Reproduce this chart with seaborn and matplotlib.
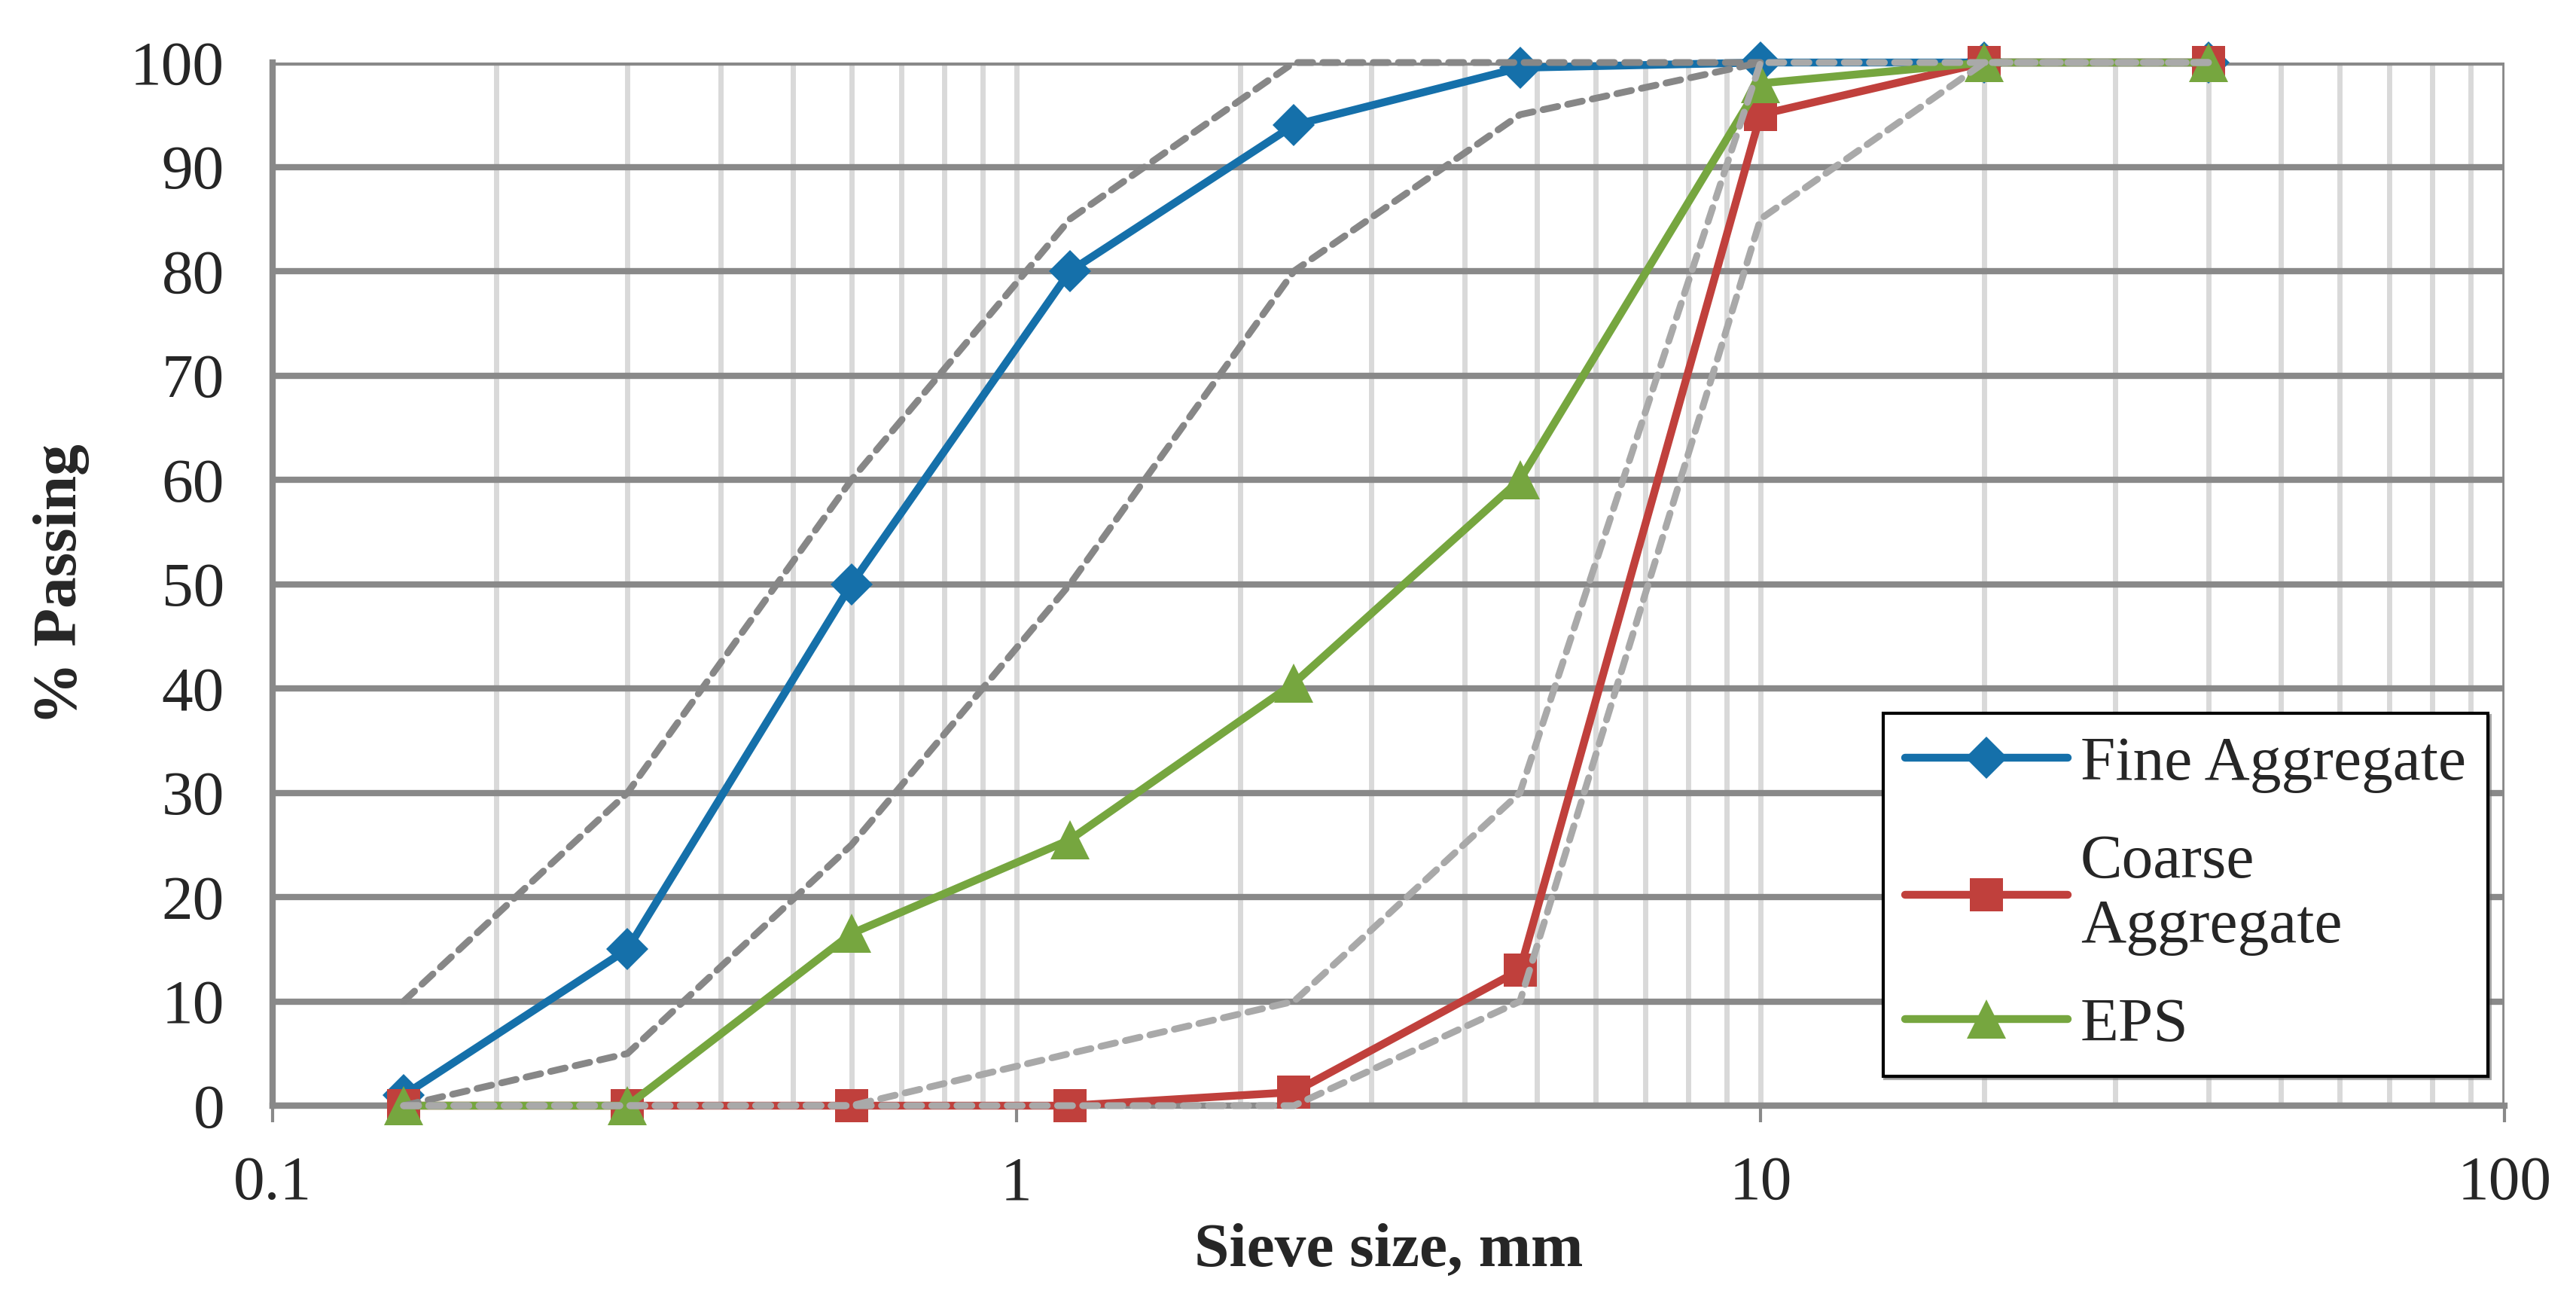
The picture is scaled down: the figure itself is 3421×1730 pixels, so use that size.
import numpy as np
import pandas as pd
import matplotlib
matplotlib.use("Agg")
import matplotlib.pyplot as plt
from matplotlib.ticker import FixedLocator, NullFormatter
import seaborn as sns

# ---------------- data ----------------
sieve = [0.15, 0.3, 0.6, 1.18, 2.36, 4.75, 10, 20, 40]
fine_aggregate = [1, 15, 50, 80, 94, 99.5, 100, 100, 100]
coarse_aggregate = [0, 0, 0, 0, 1.3, 13, 95, 100, 100]
eps = [0, 0, 16.5, 25.5, 40.5, 60, 98, 100, 100]

fine_limit_sieve = [0.15, 0.3, 0.6, 1.18, 2.36, 4.75, 10]
fine_upper = [10, 30, 60, 85, 100, 100, 100]
fine_lower = [0, 5, 25, 50, 80, 95, 100]

coarse_limit_sieve = [0.15, 0.3, 0.6, 1.18, 2.36, 4.75, 10, 20, 40]
coarse_upper = [0, 0, 0, 5, 10, 30, 100, 100, 100]
coarse_lower = [0, 0, 0, 0, 0, 10, 85, 100, 100]

x_ticks = [0.1, 1, 10, 100]
x_tick_labels = ["0.1", "1", "10", "100"]
y_ticks = [0, 10, 20, 30, 40, 50, 60, 70, 80, 90, 100]

series_names = ["Fine Aggregate", "Coarse\nAggregate", "EPS"]

# ---------------- style ----------------
sns.set_style("white")
plt.rcParams['font.family'] = ['Liberation Serif', 'DejaVu Serif']

FS = 60
BLUE = "#1570AA"
RED = "#C0403C"
GREEN = "#76A63F"
DARK_DASH = "#878787"
LIGHT_DASH = "#A9A9A9"
GRID_MAJOR = "#898989"
GRID_MINOR = "#D9D9D9"

fig = plt.figure(figsize=(34.21, 17.30), dpi=100)
ax = fig.add_axes([362 / 3421, 1 - 1468 / 1730, (3326 - 362) / 3421, (1468 - 83) / 1730])

ax.set_xscale("log")

# data series
series = [
    (fine_aggregate, BLUE, "D", 29),
    (coarse_aggregate, RED, "s", 31),
    (eps, GREEN, "^", 37),
]
for (vals, col, mk, ms), name in zip(series, series_names):
    df = pd.DataFrame({"x": sieve, "y": vals})
    sns.lineplot(data=df, x="x", y="y", ax=ax, color=col, linewidth=7.5,
                 marker=mk, markersize=ms, markeredgewidth=0, sort=False,
                 estimator=None, clip_on=False, zorder=3, label=name)

# limit lines (dashed), drawn above
for xs, ys, col in [(fine_limit_sieve, fine_upper, DARK_DASH),
                    (fine_limit_sieve, fine_lower, DARK_DASH),
                    (coarse_limit_sieve, coarse_upper, LIGHT_DASH),
                    (coarse_limit_sieve, coarse_lower, LIGHT_DASH)]:
    df = pd.DataFrame({"x": xs, "y": ys})
    sns.lineplot(data=df, x="x", y="y", ax=ax, color=col, linewidth=6.5,
                 linestyle=(0, (2.2, 1.5)), dash_capstyle="round",
                 sort=False, estimator=None, clip_on=False, zorder=4)

ax.set_xlim(0.1, 100)
ax.set_ylim(0, 100)

# grid
ax.xaxis.set_major_locator(FixedLocator(x_ticks))
ax.set_xticklabels(x_tick_labels)
minor = [m * 10.0 ** e for e in range(-1, 2) for m in range(2, 10)]
ax.xaxis.set_minor_locator(FixedLocator(minor))
ax.xaxis.set_minor_formatter(NullFormatter())
ax.set_yticks(y_ticks)
ax.grid(True, which="major", axis="y", color=GRID_MAJOR, linewidth=6, zorder=1)
ax.grid(True, which="both", axis="x", color=GRID_MINOR, linewidth=5, zorder=0)
ax.set_axisbelow(True)

for side in ["top", "right"]:
    ax.spines[side].set_visible(False)
for side in ["left", "bottom"]:
    ax.spines[side].set_color(GRID_MAJOR)
    ax.spines[side].set_linewidth(6)
ax.axvline(100, color=GRID_MAJOR, linewidth=4, zorder=1)

ax.tick_params(axis="x", which="major", length=16, width=3, color=GRID_MAJOR,
               direction="out", pad=32, labelsize=FS, bottom=True)
ax.tick_params(axis="x", which="minor", length=0)
ax.tick_params(axis="y", which="both", length=0, pad=46, labelsize=FS)

ax.set_xlabel("Sieve size, mm", fontsize=FS, fontweight="bold")
ax.set_ylabel("% Passing", fontsize=FS, fontweight="bold")
ax.xaxis.set_label_coords(0.5, -0.112)
ax.yaxis.set_label_coords(-0.082, 0.5)

leg = ax.legend(loc="upper left", bbox_to_anchor=(0.7215, 0.376),
                fontsize=FS, frameon=True, fancybox=False,
                shadow={"color": "0.45", "alpha": 0.6},
                handlelength=2.6, handletextpad=0.2, labelspacing=0.65,
                borderpad=0.35, borderaxespad=0)
leg.get_frame().set_edgecolor("black")
leg.get_frame().set_linewidth(3)
leg.set_zorder(10)

fig.savefig("out.png", dpi=100, facecolor="white")
